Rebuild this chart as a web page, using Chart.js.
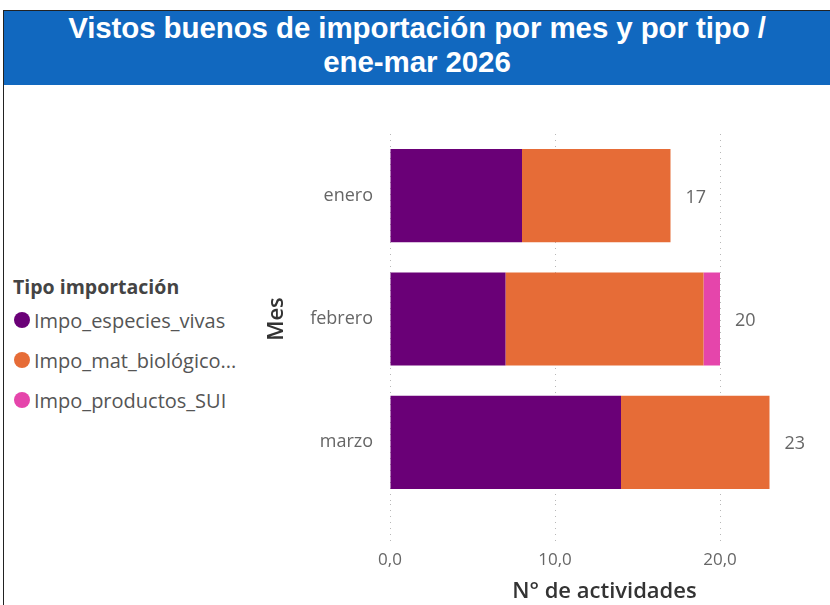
<!DOCTYPE html>
<html>
<head>
<meta charset="utf-8">
<script src="https://cdn.jsdelivr.net/npm/chart.js@4/dist/chart.umd.min.js"></script>
<style>
    body { margin: 0; width: 830px; height: 605px; background: #fff; overflow: hidden; position: relative; font-family: 'Open Sans', sans-serif; }
    #frame { position: absolute; left: 3px; top: 10px; width: 830px; height: 600px; border-left: 1px solid #222; border-top: 1px solid #222; }
    #title { position: absolute; left: 4px; top: 11px; width: 826px; height: 74px; background: #1168bf; color: #fff;
        font-family: 'Liberation Sans', Arial, sans-serif; font-weight: bold; font-size: 29.5px; letter-spacing: -0.1px;
        text-align: center; line-height: 34px; padding-top: 0px; box-sizing: border-box; }
    #legend { position: absolute; left: 13px; top: 273px; color: #555; font-size: 20px; }
    #legend .ttl { font-weight: bold; color: #444; font-size: 19.5px; margin-bottom: 0px; }
    #legend .item { display: flex; align-items: center; height: 40px; margin-left: 1px; }
    #legend .dot { width: 16px; height: 16px; border-radius: 50%; margin-right: 4px; }
    #wrap { position: absolute; left: 250px; top: 86px; width: 580px; height: 519px; }
</style>
</head>
<body>
<div id="frame"></div>
<div id="title">Vistos buenos de importación por mes y por tipo /<br>ene-mar 2026</div>
<div id="legend"></div>
<div id="wrap"><canvas id="chart"></canvas></div>
<script>
    const meses = ['enero', 'febrero', 'marzo'];
    const tipos = ['Impo_especies_vivas', 'Impo_mat_biológico...', 'Impo_productos_SUI'];
    const especiesVivas = [8, 7, 14];
    const matBiologico = [9, 12, 9];
    const productosSUI = [0, 1, 0];
    const colores = ['#6a0077', '#e66c37', '#e545ab'];
    const xTicks = [0, 10, 20];

    // leyenda a la izquierda
    const legend = document.getElementById('legend');
    legend.innerHTML = '<div class="ttl">Tipo importación</div>' +
        tipos.map((t, i) => `<div class="item"><span class="dot" style="background:${colores[i]}"></span>${t}</div>`).join('');

    // totales al final de cada barra
    const totalesPlugin = {
        id: 'totales',
        afterDatasetsDraw(chart) {
            const ctx = chart.ctx;
            const xs = chart.scales.x, ys = chart.scales.y;
            ctx.save();
            ctx.font = "18px 'Open Sans'";
            ctx.fillStyle = '#666';
            ctx.textAlign = 'left';
            ctx.textBaseline = 'middle';
            meses.forEach((m, i) => {
                const total = chart.data.datasets.reduce((s, d) => s + d.data[i], 0);
                ctx.fillText(total, xs.getPixelForValue(total) + 15, ys.getPixelForValue(i) + 2);
            });
            ctx.restore();
        }
    };

    new Chart(document.getElementById('chart'), {
        type: 'bar',
        data: {
            labels: meses,
            datasets: [
                { label: tipos[0], data: especiesVivas, backgroundColor: colores[0] },
                { label: tipos[1], data: matBiologico, backgroundColor: colores[1] },
                { label: tipos[2], data: productosSUI, backgroundColor: colores[2] }
            ]
        },
        options: {
            indexAxis: 'y',
            responsive: true,
            maintainAspectRatio: false,
            animation: false,
            layout: { padding: { top: 48, right: 11, left: 14, bottom: 0 } },
            datasets: { bar: { categoryPercentage: 1, barPercentage: 0.755, borderWidth: 0 } },
            scales: {
                x: {
                    stacked: true,
                    min: 0,
                    max: 26,
                    afterBuildTicks: (scale) => { scale.ticks = xTicks.map(v => ({ value: v })); },
                    afterFit: (scale) => { scale.height = 101; },
                    border: { display: false, dash: [1, 5] },
                    grid: { color: '#b8b8b8', lineWidth: 1, tickLength: 40, drawTicks: true, tickBorderDash: [1, 5] },
                    ticks: {
                        padding: 6,
                        color: '#666',
                        font: { family: "'Open Sans'", size: 17 },
                        callback: (v) => v.toFixed(1).replace('.', ',')
                    },
                    title: {
                        display: true,
                        text: 'N° de actividades',
                        color: '#333',
                        font: { family: "'Open Sans'", size: 22, weight: '600' },
                        padding: { top: 0, bottom: 0 }
                    }
                },
                y: {
                    stacked: true,
                    afterFit: (scale) => { scale.width = 126; },
                    border: { display: false },
                    grid: { display: false },
                    ticks: { padding: 9, color: '#666', font: { family: "'Open Sans'", size: 18 } },
                    title: {
                        display: true,
                        text: 'Mes',
                        color: '#333',
                        font: { family: "'Open Sans'", size: 22, weight: '600' },
                        padding: { top: 0, bottom: 0 }
                    }
                }
            },
            plugins: {
                legend: { display: false },
                tooltip: { enabled: false }
            }
        },
        plugins: [totalesPlugin]
    });
</script>
</body>
</html>
